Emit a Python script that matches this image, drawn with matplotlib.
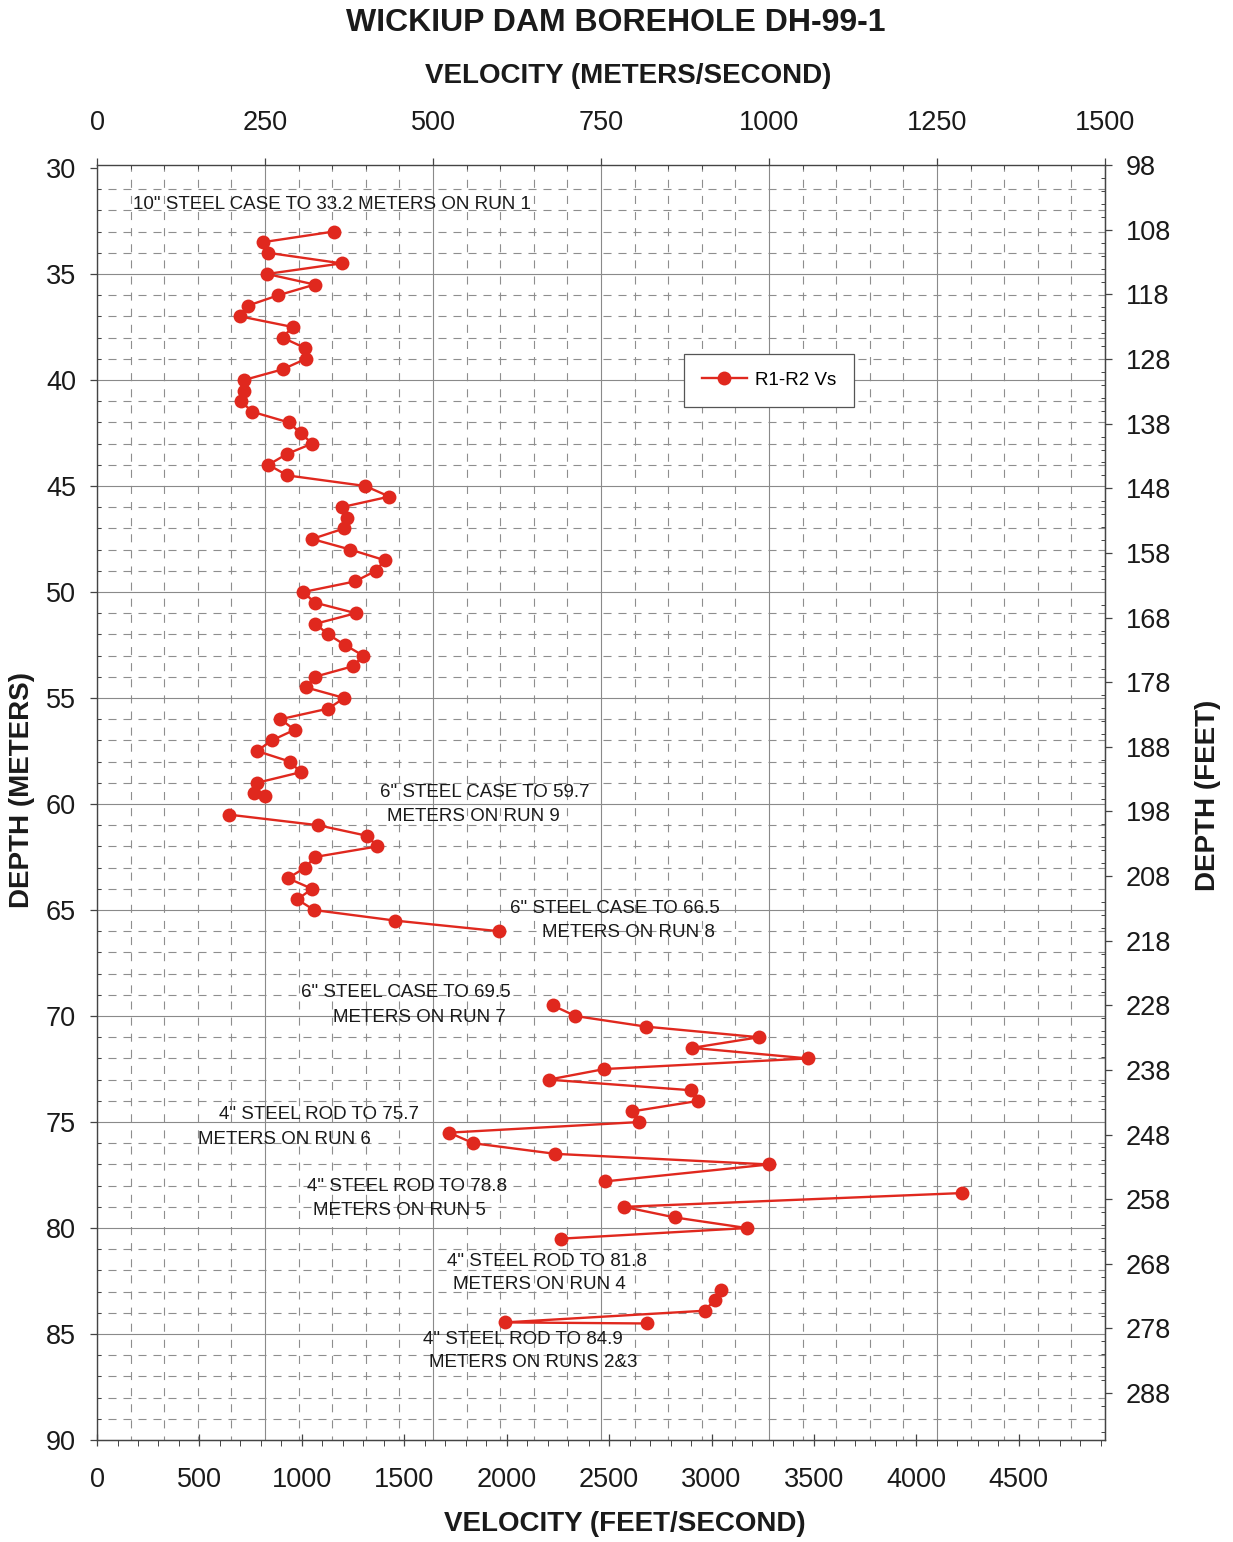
import numpy as np
import matplotlib.pyplot as plt
from matplotlib.ticker import MultipleLocator, FixedLocator

plt.rcParams['font.family'] = ['Liberation Sans', 'DejaVu Sans']
plt.rcParams['lines.scale_dashes'] = False

M_TO_FT = 3.28084

# ── R1-R2 shear-wave velocity (m/s) vs depth (m), one pair per logged interval ──
depth_a = [33.0, 33.5, 34.0, 34.5, 35.0, 35.5, 36.0, 36.5, 37.0, 37.5,
           38.0, 38.5, 39.0, 39.5, 40.0, 40.5, 41.0, 41.5, 42.0, 42.5,
           43.0, 43.5, 44.0, 44.5, 45.0, 45.5, 46.0, 46.5, 47.0, 47.5,
           48.0, 48.5, 49.0, 49.5, 50.0, 50.5, 51.0, 51.5, 52.0, 52.5,
           53.0, 53.5, 54.0, 54.5, 55.0, 55.5, 56.0, 56.5, 57.0, 57.5,
           58.0, 58.5, 59.0, 59.5, 59.6]
vs_a = [352, 247, 254, 364, 253, 324, 270, 224, 213, 291,
        276, 310, 311, 276, 219, 219, 214, 231, 285, 303,
        320, 282, 255, 283, 399, 435, 364, 372, 368, 320,
        377, 428, 415, 384, 307, 324, 385, 325, 344, 369,
        396, 381, 324, 311, 368, 344, 273, 294, 260, 238,
        287, 303, 238, 234, 250]

depth_b = [60.5, 61.0, 61.5, 62.0, 62.5, 63.0, 63.5, 64.0, 64.5, 65.0, 65.5, 66.0]
vs_b = [196, 329, 402, 417, 324, 310, 284, 320, 298, 323, 444, 598]

depth_c = [69.5, 70.0, 70.5, 71.0, 71.5, 72.0, 72.5, 73.0, 73.5, 74.0,
           74.5, 75.0, 75.5, 76.0, 76.5, 77.0, 77.8]
vs_c = [678, 712, 817, 985, 886, 1058, 755, 672, 884, 895,
        796, 807, 524, 560, 682, 1000, 756]

depth_d = [78.35, 79.0, 79.5, 80.0, 80.5]
vs_d = [1287, 784, 860, 967, 691]

depth_e = [82.9, 83.4, 83.9, 84.45, 84.5]
vs_e = [929, 919, 904, 607, 818]

# casing notes: (text, velocity m/s, depth m)
notes = [
    ('10" STEEL CASE TO 33.2 METERS ON RUN 1', 54, 31.7),
    ('6" STEEL CASE TO 59.7', 421, 59.45),
    ('METERS ON RUN 9', 431, 60.6),
    ('6" STEEL CASE TO 66.5', 615, 64.95),
    ('METERS ON RUN 8', 662, 66.05),
    ('6" STEEL CASE TO 69.5', 304, 68.9),
    ('METERS ON RUN 7', 351, 70.05),
    ('4" STEEL ROD TO 75.7', 182, 74.65),
    ('METERS ON RUN 6', 150, 75.8),
    ('4" STEEL ROD TO 78.8', 313, 78.05),
    ('METERS ON RUN 5', 321, 79.15),
    ('4" STEEL ROD TO 81.8', 521, 81.6),
    ('METERS ON RUN 4', 530, 82.65),
    ('4" STEEL ROD TO 84.9', 485, 85.25),
    ('METERS ON RUNS 2&3', 494, 86.35),
]

RED = '#e0281e'
TXT = '#1a1a1a'
AXC = '#444444'
GRID = '#8a8a8a'

fig = plt.figure(figsize=(12.33, 15.42), dpi=100)
ax = fig.add_axes([0.0787, 0.0661, 0.8175, 0.8269])

ax.set_xlim(0, 1500)
# top edge a hair above 30 m so the 98 ft tick stays on the right scale
ax.set_ylim(90, 29.86)

# ── grid: solid every 250 m/s / 5 m, dashed every 50 m/s / 1 m ───────────────
ax.xaxis.set_major_locator(MultipleLocator(250))
ax.xaxis.set_minor_locator(MultipleLocator(50))
ax.yaxis.set_major_locator(MultipleLocator(5))
ax.yaxis.set_minor_locator(MultipleLocator(1))
ax.grid(which='major', axis='x', color=GRID, linewidth=0.8, linestyle='-')
ax.grid(which='minor', axis='x', color='#8e8e8e', linewidth=0.8,
        linestyle=(2.9, (5.8, 5.8)))
ax.grid(which='minor', axis='y', color='#8e8e8e', linewidth=0.8,
        linestyle=(2.9, (5.8, 5.0)))
# solid depth lines inside the frame only (30 m sits on the top spine)
for d in range(35, 90, 5):
    ax.axhline(d, color=GRID, linewidth=0.8, zorder=0.6)
ax.set_axisbelow(True)

for s in ax.spines.values():
    s.set_color(AXC)
    s.set_linewidth(1.0)

# ── data ──────────────────────────────────────────────────────────────────────
style = dict(color=RED, linewidth=1.7, marker='o', markersize=10,
             markeredgewidth=0, zorder=5)
ax.plot(vs_a, depth_a, label='R1-R2 Vs', **style)
for vs, dep in [(vs_b, depth_b), (vs_c, depth_c), (vs_d, depth_d), (vs_e, depth_e)]:
    ax.plot(vs, dep, **style)

for text, x, y in notes:
    ax.text(x, y, text, ha='left', va='center', fontsize=13.5, color=TXT, zorder=6)

# ── ticks: m/s on top, m on left ──────────────────────────────────────────────
ax.tick_params(axis='x', which='both', bottom=False, labelbottom=False,
               top=True, labeltop=True, colors=AXC, labelcolor=TXT)
ax.tick_params(axis='x', which='major', direction='out', length=5, width=0.9,
               pad=16, labelsize=19.5)
ax.tick_params(axis='x', which='minor', direction='in', length=3, width=0.7)
ax.tick_params(axis='y', which='both', right=False, labelright=False,
               colors=AXC, labelcolor=TXT)
ax.tick_params(axis='y', which='major', direction='out', length=5, width=0.9,
               pad=10, labelsize=19.5)
ax.tick_params(axis='y', which='minor', direction='in', length=3, width=0.7)

# ft/s on bottom, ft on right
secx = ax.secondary_xaxis('bottom', functions=(lambda v: v * M_TO_FT,
                                               lambda v: v / M_TO_FT))
secx.xaxis.set_major_locator(FixedLocator(np.arange(0, 4501, 500)))
secx.xaxis.set_minor_locator(FixedLocator(np.arange(0, 4901, 100)))
secx.tick_params(which='major', direction='inout', length=9, width=0.9,
                 pad=15, labelsize=19.5, colors=AXC, labelcolor=TXT)
secx.tick_params(which='minor', direction='out', length=4, width=0.7,
                 colors=AXC)

secy = ax.secondary_yaxis('right', functions=(lambda d: d * M_TO_FT,
                                              lambda d: d / M_TO_FT))
secy.yaxis.set_major_locator(FixedLocator(np.arange(98, 289, 10)))
secy.yaxis.set_minor_locator(FixedLocator(np.arange(98, 296, 2)))
secy.tick_params(which='major', direction='out', length=5, width=0.9,
                 pad=10, labelsize=19.5, colors=AXC, labelcolor=TXT)
secy.tick_params(which='minor', direction='in', length=3, width=0.7,
                 colors=AXC)
for sax in (secx, secy):
    for s in sax.spines.values():
        s.set_color(AXC)

# ── legend ────────────────────────────────────────────────────────────────────
leg = ax.legend(loc='upper left', bbox_to_anchor=(0.5547, 0.7704),
                bbox_transform=fig.transFigure, borderaxespad=0, fontsize=13.5,
                frameon=True, fancybox=False, edgecolor='#555555', framealpha=1,
                borderpad=0.95, handlelength=2.4, handletextpad=0.45)
leg.get_frame().set_linewidth(0.9)

# ── titles / axis labels ──────────────────────────────────────────────────────
fig.text(0.4996, 0.985, 'WICKIUP DAM BOREHOLE DH-99-1', ha='center', va='center',
         fontsize=23, fontweight='bold', color=TXT)
fig.text(0.5093, 0.9505, 'VELOCITY (METERS/SECOND)', ha='center', va='center',
         fontsize=20, fontweight='bold', color=TXT)
fig.text(0.5069, 0.0115, 'VELOCITY (FEET/SECOND)', ha='center', va='center',
         fontsize=20, fontweight='bold', color=TXT)
fig.text(0.0175, 0.4877, 'DEPTH (METERS)', ha='center', va='center', rotation=90,
         fontsize=20, fontweight='bold', color=TXT)
fig.text(0.9797, 0.4844, 'DEPTH (FEET)', ha='center', va='center', rotation=90,
         fontsize=20, fontweight='bold', color=TXT)

fig.savefig('out.png', dpi=100)
